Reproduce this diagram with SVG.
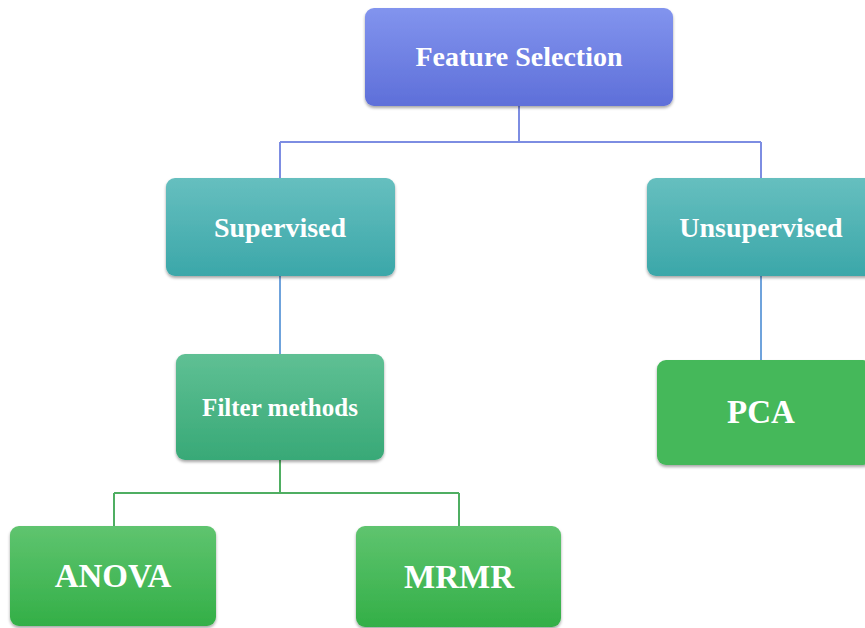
<svg xmlns="http://www.w3.org/2000/svg" width="865" height="628" viewBox="0 0 865 628">
<defs>
<linearGradient id="gBlue" x1="0" y1="0" x2="0" y2="1"><stop offset="0" stop-color="#8294ee"/><stop offset="1" stop-color="#5e6fd9"/></linearGradient>
<linearGradient id="gTeal" x1="0" y1="0" x2="0" y2="1"><stop offset="0" stop-color="#66bfbf"/><stop offset="1" stop-color="#3ba7a9"/></linearGradient>
<linearGradient id="gSea" x1="0" y1="0" x2="0" y2="1"><stop offset="0" stop-color="#5fc094"/><stop offset="1" stop-color="#38a977"/></linearGradient>
<linearGradient id="gGreen" x1="0" y1="0" x2="0" y2="1"><stop offset="0" stop-color="#5fc46f"/><stop offset="1" stop-color="#33af47"/></linearGradient>
<filter id="sh" x="-10%" y="-10%" width="120%" height="130%"><feDropShadow dx="0" dy="2" stdDeviation="1.5" flood-color="#000" flood-opacity="0.35"/></filter>
</defs>
<style>
.box{filter:url(#sh)}
.t{font-family:"Liberation Serif","Times New Roman",serif;font-weight:bold;fill:#fff;text-anchor:middle;dominant-baseline:central}
.c{fill:none;stroke-width:2}
</style>
<rect width="865" height="628" fill="#fff"/>
<g id="connectors">
<path class="c" stroke="#7d8de2" d="M519,106 V142 M280,142 H761 M280,142 V178 M761,142 V178"/>
<path class="c" stroke="#6fa3dc" d="M280,276 V354 M761,276 V360"/>
<path class="c" stroke="#4fae62" d="M280,460 V493 M114,493 H459 M114,493 V526 M459,493 V526"/>
</g>
<g id="feature-selection"><rect class="box" x="365" y="8" width="308" height="98" rx="9" fill="url(#gBlue)"/><text class="t" x="519" y="56" font-size="28">Feature Selection</text></g>
<g id="supervised"><rect class="box" x="166" y="178" width="229" height="98" rx="9" fill="url(#gTeal)"/><text class="t" x="280" y="227" font-size="28">Supervised</text></g>
<g id="unsupervised"><rect class="box" x="647" y="178" width="228" height="98" rx="9" fill="url(#gTeal)"/><text class="t" x="761" y="227" font-size="28">Unsupervised</text></g>
<g id="filter-methods"><rect class="box" x="176" y="354" width="208" height="106" rx="9" fill="url(#gSea)"/><text class="t" x="280" y="407" font-size="25">Filter methods</text></g>
<g id="pca"><rect class="box" x="657" y="360" width="215" height="105" rx="9" fill="#44b85a"/><text class="t" x="761" y="412" font-size="33">PCA</text></g>
<g id="anova"><rect class="box" x="10" y="526" width="206" height="100" rx="9" fill="url(#gGreen)"/><text class="t" x="113" y="576" font-size="33">ANOVA</text></g>
<g id="mrmr"><rect class="box" x="356" y="526" width="205" height="101" rx="9" fill="url(#gGreen)"/><text class="t" x="459" y="577" font-size="33">MRMR</text></g>
</svg>
